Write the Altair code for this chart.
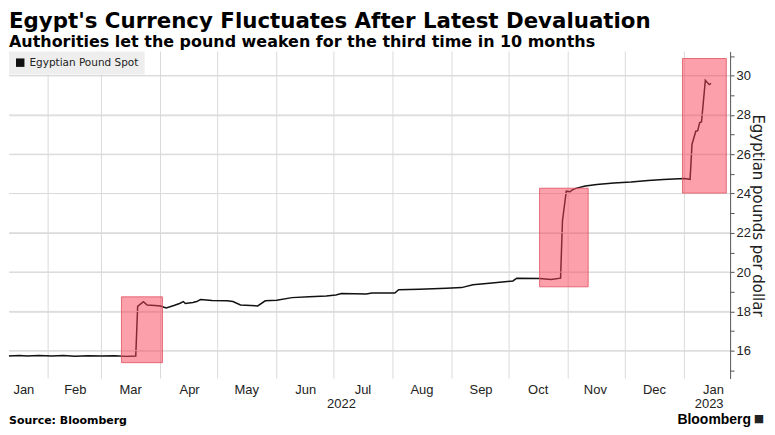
import altair as alt
import pandas as pd

# ---- data ----
dates = [
    "2022-01-11", "2022-01-17", "2022-01-21", "2022-01-27", "2022-02-03", "2022-02-09",
    "2022-02-15", "2022-02-22", "2022-03-01", "2022-03-08", "2022-03-14", "2022-03-19",
    "2022-03-20", "2022-03-23", "2022-03-25", "2022-03-29", "2022-04-01", "2022-04-04",
    "2022-04-08", "2022-04-11", "2022-04-13", "2022-04-14", "2022-04-18", "2022-04-20",
    "2022-04-22", "2022-04-28", "2022-05-06", "2022-05-09", "2022-05-13", "2022-05-22",
    "2022-05-26", "2022-06-01", "2022-06-09", "2022-06-18", "2022-06-27", "2022-07-02",
    "2022-07-05", "2022-07-18", "2022-07-21", "2022-08-02", "2022-08-04", "2022-08-15",
    "2022-08-29", "2022-09-06", "2022-09-12", "2022-09-22", "2022-10-03", "2022-10-05",
    "2022-10-17", "2022-10-23", "2022-10-28", "2022-10-29", "2022-10-31", "2022-11-02",
    "2022-11-03", "2022-11-05", "2022-11-10", "2022-11-16", "2022-11-25", "2022-12-04",
    "2022-12-13", "2022-12-21", "2023-01-01", "2023-01-04", "2023-01-05", "2023-01-07",
    "2023-01-08", "2023-01-09", "2023-01-10", "2023-01-12", "2023-01-14", "2023-01-15",
]
values = [
    15.73, 15.76, 15.73, 15.75, 15.73, 15.75,
    15.72, 15.74, 15.73, 15.74, 15.71, 15.73,
    18.25, 18.49, 18.32, 18.30, 18.27, 18.18,
    18.30, 18.40, 18.50, 18.40, 18.45, 18.50,
    18.60, 18.55, 18.54, 18.50, 18.33, 18.28,
    18.54, 18.57, 18.70, 18.74, 18.78, 18.83,
    18.91, 18.88, 18.93, 18.93, 19.10, 19.13,
    19.18, 19.21, 19.35, 19.44, 19.55, 19.69,
    19.67, 19.62, 19.69, 22.60, 24.12, 24.09,
    24.17, 24.26, 24.38, 24.46, 24.54, 24.58,
    24.66, 24.71, 24.76, 24.72, 26.50, 27.17,
    27.20, 27.60, 27.65, 29.76, 29.54, 29.60,
]
series_name = "Egyptian Pound Spot"

box_start = ["2022-03-11T12:00:00Z", "2022-10-17T00:00:00Z", "2022-12-31T00:00:00Z"]
box_end = ["2022-04-02T00:00:00Z", "2022-11-11T12:00:00Z", "2023-01-23T00:00:00Z"]
box_low = [15.39, 19.25, 24.02]
box_high = [18.74, 24.27, 30.87]

month_starts = [
    "2022-02-01", "2022-03-01", "2022-04-01", "2022-05-01", "2022-06-01", "2022-07-01",
    "2022-08-01", "2022-09-01", "2022-10-01", "2022-11-01", "2022-12-01", "2023-01-01",
]
month_label_dates = [
    "2022-01-19", "2022-02-15", "2022-03-16", "2022-04-16", "2022-05-16", "2022-06-16",
    "2022-07-16", "2022-08-16", "2022-09-16", "2022-10-16", "2022-11-15", "2022-12-16",
    "2023-01-16",
]
year_labels = ["2022", "2023"]
year_label_dates = ["2022-07-05", "2023-01-14"]
y_grid_values = [16.0, 18.0, 20.0, 22.0, 24.0, 26.0, 28.0, 30.0]
y_tick_values = list(range(15, 32))
x_domain = ["2022-01-11T11:00:00Z", "2023-01-25T00:00:00Z"]
y_domain = [14.58, 31.23]

W, H = 723, 328
GRID = "#dadada"


def ms(s):
    t = pd.Timestamp(s)
    if t.tzinfo is None:
        t = t.tz_localize("UTC")
    return int(t.value // 10**6)


# ---- tables ----
line_df = pd.DataFrame({"date": dates, "value": values, "series": series_name})
box_df = pd.DataFrame({"start": box_start, "end": box_end, "low": box_low, "high": box_high})
month_df = pd.DataFrame({"date": month_starts})
hgrid_df = pd.DataFrame({"v": y_grid_values})
year_df = pd.DataFrame({"date": year_label_dates, "label": year_labels})

xscale = alt.Scale(type="utc", domain=[ms(d) for d in x_domain])
yscale = alt.Scale(domain=y_domain, nice=False, zero=False)

xaxis = alt.Axis(
    title=None, values=[ms(d) for d in month_label_dates], format="%b",
    grid=False, ticks=False, tickSize=0, domain=False, labelFont="Liberation Sans",
    labelFontSize=13, labelColor="#222", labelPadding=5, labelFlush=False,
    labelOverlap=False,
)
yaxis = alt.Axis(
    title="Egyptian pounds per dollar", orient="right", values=y_tick_values,
    labelExpr="datum.value % 2 == 0 ? datum.label : ''",
    grid=True, gridColor=GRID, gridWidth=1,
    gridOpacity={"condition": {"test": "datum.value % 2 == 0", "value": 1}, "value": 0},
    domainColor="#555", domainWidth=1, tickColor="#555", tickSize=4, tickWidth=1,
    labelFont="Liberation Sans", labelFontSize=13, labelColor="#222", labelPadding=2,
    titleFont="DejaVu Sans", titleFontSize=15, titleFontWeight="normal",
    titleColor="#222", titlePadding=-1, labelFlush=False,
)

X = lambda f: alt.X(f, scale=xscale, axis=xaxis)
Y = lambda f: alt.Y(f, scale=yscale, axis=yaxis)

vgrid = alt.Chart(month_df).mark_rule(stroke=GRID, strokeWidth=1).encode(
    x=X("date:T"), y=alt.value(0), y2=alt.value(H)
)
hgrid = alt.Chart(hgrid_df).mark_rule(stroke=GRID, strokeWidth=1).encode(
    y=Y("v:Q"), x=alt.value(0), x2=alt.value(W)
)

line = alt.Chart(line_df).mark_line(strokeWidth=1.5, clip=True).encode(
    x=X("date:T"),
    y=Y("value:Q"),
    color=alt.Color(
        "series:N",
        scale=alt.Scale(domain=[series_name], range=["#111111"]),
        legend=alt.Legend(
            title=None, orient="top-left", offset=0, padding=6, fillColor="#eeeeee",
            symbolType="square", symbolSize=72, symbolFillColor="#111111",
            symbolStrokeColor="#111111", symbolStrokeWidth=0, labelOffset=4,
            labelFont="DejaVu Sans", labelFontSize=10.5, labelColor="#222",
        ),
    ),
)

boxes = alt.Chart(box_df).mark_rect(
    fill="#f94159", fillOpacity=0.5, stroke="#e0505f", strokeWidth=1, strokeOpacity=0.8
).encode(x=X("start:T"), x2="end:T", y=Y("low:Q"), y2="high:Q")

years = alt.Chart(year_df).mark_text(
    font="Liberation Sans", fontSize=13, color="#222", baseline="alphabetic", align="center"
).encode(x=X("date:T"), y=alt.value(H + 30), text="label:N")

foot_df = pd.DataFrame({"t": ["Source: Bloomberg"]})
source = alt.Chart(foot_df).mark_text(
    font="DejaVu Sans", fontSize=11, fontWeight="bold", color="#000",
    align="left", baseline="alphabetic",
).encode(x=alt.value(0), y=alt.value(H + 46), text="t:N")

logo_df = pd.DataFrame({"t": ["Bloomberg"]})
logo = alt.Chart(logo_df).mark_text(
    font="Liberation Sans", fontSize=14, fontWeight="bold", color="#000",
    align="right", baseline="alphabetic",
).encode(x=alt.value(744), y=alt.value(H + 46), text="t:N")

icon_df = pd.DataFrame({"t": ["\u25A0"]})
icon = alt.Chart(icon_df).mark_text(
    font="DejaVu Sans", fontSize=11, color="#222", align="center", baseline="middle",
).encode(x=alt.value(752), y=alt.value(H + 41), text="t:N")

chart = alt.layer(vgrid, line, hgrid, boxes, years, source, logo, icon).properties(
    width=W, height=H,
    padding={"left": 0, "top": 2, "right": 2, "bottom": 0},
    title=alt.TitleParams(
        text="Egypt's Currency Fluctuates After Latest Devaluation",
        subtitle="Authorities let the pound weaken for the third time in 10 months",
        anchor="start", frame="group", font="DejaVu Sans", fontSize=21.4,
        fontWeight="bold", color="#000", subtitleFont="DejaVu Sans",
        subtitleFontSize=16, subtitleFontWeight="bold", subtitleColor="#000",
        subtitlePadding=2, offset=1,
    ),
).configure_view(stroke=None)

chart.save("out.html", embed_options={"renderer": "svg", "actions": False})
